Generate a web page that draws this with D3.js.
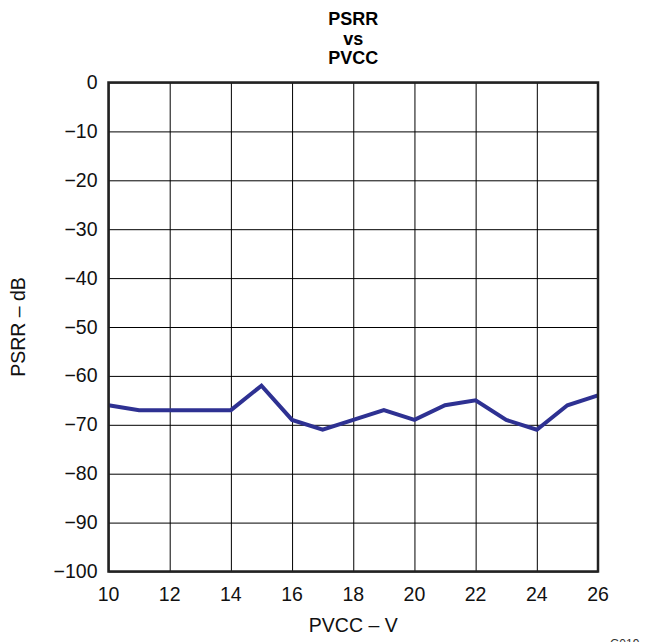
<!DOCTYPE html>
<html><head><meta charset="utf-8">
<script src="https://cdn.jsdelivr.net/npm/d3@7"></script>
<style>body{margin:0;background:#fff}svg text{font-family:"Liberation Sans",Arial,sans-serif}</style>
</head><body>
<script>
const pvcc = [10,11,12,13,14,15,16,17,18,19,20,21,22,23,24,25,26];
const psrr = [-66,-67,-67,-67,-67,-62,-69,-71,-69,-67,-69,-66,-65,-69,-71,-66,-64];
const xTicks = [10,12,14,16,18,20,22,24,26];
const yTicks = [0,-10,-20,-30,-40,-50,-60,-70,-80,-90,-100];
const yTickLabels = ["0","\u221210","\u221220","\u221230","\u221240","\u221250","\u221260","\u221270","\u221280","\u221290","\u2212100"];
const titleLines = ["PSRR","vs","PVCC"];

const W=656,H=642;
const L=108.5,R=598,T=82.5,B=571.5;
const svg=d3.select("body").append("svg").attr("width",W).attr("height",H);
const x=d3.scaleLinear().domain([10,26]).range([L,R]);
const y=d3.scaleLinear().domain([-100,0]).range([B,T]);

// grid
svg.append("g").attr("transform",`translate(0,${B})`)
 .call(d3.axisBottom(x).tickValues(xTicks).tickSize(-(B-T)).tickFormat(""))
 .call(g=>{g.select(".domain").remove();g.selectAll("line").attr("stroke","#000").attr("stroke-width",1);});
svg.append("g").attr("transform",`translate(${L},0)`)
 .call(d3.axisLeft(y).tickValues(yTicks).tickSize(-(R-L)).tickFormat(""))
 .call(g=>{g.select(".domain").remove();g.selectAll("line").attr("stroke","#000").attr("stroke-width",1);});

// tick labels
svg.append("g").selectAll("text").data(xTicks).join("text")
 .attr("x",d=>x(d)).attr("y",B+29.5).attr("text-anchor","middle").attr("font-size",19.5).attr("fill","#111").text(d=>d);
svg.append("g").selectAll("text").data(yTicks).join("text")
 .attr("x",L-11).attr("y",d=>y(d)+6.5).attr("text-anchor","end").attr("font-size",19.5).attr("fill","#111").text((d,i)=>yTickLabels[i]);

// line
svg.append("path").datum(pvcc.map((v,i)=>[v,psrr[i]]))
 .attr("d",d3.line().x(d=>x(d[0])).y(d=>y(d[1])))
 .attr("fill","none").attr("stroke","#2e3192").attr("stroke-width",4).attr("stroke-linejoin","miter");

// frame
svg.append("rect").attr("x",L).attr("y",T).attr("width",R-L).attr("height",B-T)
 .attr("fill","none").attr("stroke","#222").attr("stroke-width",2.5);

// title
svg.append("g").selectAll("text").data(titleLines).join("text")
 .attr("x",(L+R)/2).attr("y",(d,i)=>25+i*19.5).attr("text-anchor","middle")
 .attr("font-size",18).attr("font-weight","bold").attr("fill","#000").text(d=>d);

// axis titles
svg.append("text").attr("x",(L+R)/2).attr("y",632).attr("text-anchor","middle").attr("font-size",19.5).attr("fill","#111").text("PVCC \u2013 V");
svg.append("text").attr("transform",`translate(25,${(T+B)/2}) rotate(-90)`).attr("text-anchor","middle").attr("font-size",19.5).attr("fill","#111").text("PSRR \u2013 dB");
svg.append("text").attr("x",610).attr("y",648).attr("font-size",12).attr("fill","#333").text("G019");
</script>
</body></html>
